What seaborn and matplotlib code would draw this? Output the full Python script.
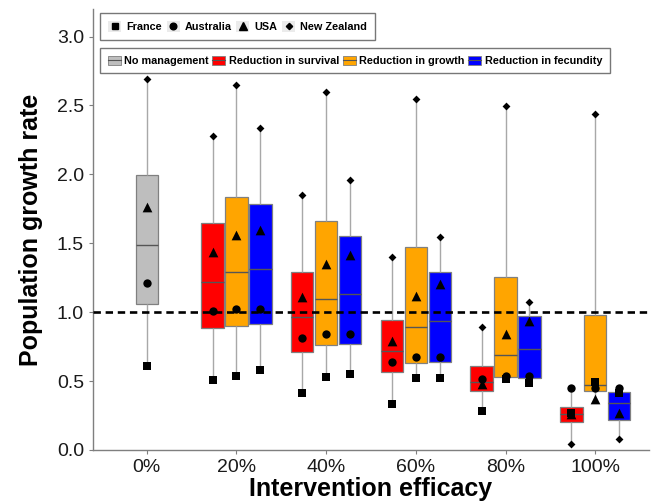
import matplotlib
matplotlib.use("Agg")
import matplotlib.pyplot as plt
import seaborn as sns
import pandas as pd
from matplotlib.lines import Line2D
from matplotlib.patches import Patch
from matplotlib.legend_handler import HandlerTuple

# ---------------- data ----------------
efficacy = ['0%', '20%', '40%', '60%', '80%', '100%']
countries = ['France', 'Australia', 'USA', 'New Zealand']
treatments = ['Reduction in survival', 'Reduction in growth', 'Reduction in fecundity']

# No management (0% only): France, Australia, USA, New Zealand
no_management = [0.61, 1.21, 1.76, 2.69]

# values at 20%, 40%, 60%, 80%, 100%
survival_france = [0.51, 0.415, 0.335, 0.284, 0.265]
survival_australia = [1.007, 0.814, 0.641, 0.515, 0.449]
survival_usa = [1.435, 1.11, 0.789, 0.478, 0.26]
survival_nz = [2.28, 1.85, 1.398, 0.891, 0.041]

growth_france = [0.534, 0.527, 0.519, 0.512, 0.495]
growth_australia = [1.022, 0.843, 0.672, 0.534, 0.449]
growth_usa = [1.563, 1.352, 1.119, 0.843, 0.369]
growth_nz = [2.646, 2.595, 2.547, 2.493, 2.438]

fecundity_france = [0.583, 0.553, 0.524, 0.483, 0.41]
fecundity_australia = [1.022, 0.843, 0.672, 0.534, 0.449]
fecundity_usa = [1.60, 1.418, 1.207, 0.937, 0.267]
fecundity_nz = [2.333, 1.959, 1.546, 1.071, 0.078]

y_ticks = [0.0, 0.5, 1.0, 1.5, 2.0, 2.5, 3.0]

# ---------------- tables ----------------
rows = []
for c, v in zip(countries, no_management):
    rows.append(dict(eff='0%', treat='No management', country=c, val=v))
series = {
    'Reduction in survival': [survival_france, survival_australia, survival_usa, survival_nz],
    'Reduction in growth': [growth_france, growth_australia, growth_usa, growth_nz],
    'Reduction in fecundity': [fecundity_france, fecundity_australia, fecundity_usa, fecundity_nz],
}
for t, lists in series.items():
    for c, vals in zip(countries, lists):
        for e, v in zip(efficacy[1:], vals):
            rows.append(dict(eff=e, treat=t, country=c, val=v))
df = pd.DataFrame(rows)
df0 = df[df.treat == 'No management']
df1 = df[df.treat != 'No management']

palette = {'Reduction in survival': '#FF0000',
           'Reduction in growth': '#FFA500',
           'Reduction in fecundity': '#0000FF'}
grey_fill = '#BEBEBE'

plt.rcParams['font.family'] = ['Liberation Sans', 'DejaVu Sans']
fig = plt.figure(figsize=(6.51, 5.04), dpi=100)
ax = fig.add_axes([93 / 651, 54 / 504, (649 - 93) / 651, (450 - 9) / 504])

box_kw = dict(whis=(0, 100), showfliers=False, linewidth=0.9,
              linecolor='#808080',
              whiskerprops=dict(color='#A8A8A8', linewidth=1.0),
              capprops=dict(linewidth=0),
              medianprops=dict(color='#555555', linewidth=1.0),
              boxprops=dict(edgecolor='#808080'))

sns.boxplot(data=df0, x='eff', y='val', order=efficacy, color=grey_fill,
            width=0.25, ax=ax, **box_kw)
sns.boxplot(data=df1, x='eff', y='val', order=efficacy, hue='treat',
            hue_order=treatments, palette=palette, saturation=1,
            width=0.8, gap=0.06, dodge=True, legend=False, ax=ax, **box_kw)

ax.axhline(1.0, color='black', lw=1.9, dashes=[2.8, 1.8], zorder=5)

markers = {'France': 's', 'Australia': 'o', 'USA': '^', 'New Zealand': 'D'}
sizes = {'France': 5.5, 'Australia': 6.0, 'USA': 7.0, 'New Zealand': 4.0}
draw_order = ['USA', 'Australia', 'France', 'New Zealand']
for c in draw_order:
    sns.stripplot(data=df0[df0.country == c], x='eff', y='val', order=efficacy,
                  color='black', marker=markers[c], size=sizes[c], jitter=False,
                  linewidth=0, ax=ax, zorder=6)
    sns.stripplot(data=df1[df1.country == c], x='eff', y='val', order=efficacy,
                  hue='treat', hue_order=treatments,
                  palette={t: 'black' for t in treatments},
                  marker=markers[c], size=sizes[c], jitter=False, dodge=True,
                  linewidth=0, legend=False, ax=ax, zorder=6)

ax.set_xlim(-0.6, 5.6)
ax.set_ylim(0, 3.2)
ax.set_yticks(y_ticks)
ax.set_yticklabels([f'{v:.1f}' for v in y_ticks])
ax.tick_params(axis='both', labelsize=14, colors='#7f7f7f', labelcolor='#1a1a1a',
               length=3, width=0.8)
for s in ['top', 'right']:
    ax.spines[s].set_visible(False)
for s in ['left', 'bottom']:
    ax.spines[s].set_color('#7f7f7f')
    ax.spines[s].set_linewidth(1.0)
ax.set_xlabel('Intervention efficacy', fontsize=18, fontweight='bold', labelpad=1)
ax.set_ylabel('Population growth rate', fontsize=18, fontweight='bold', labelpad=10)

# legends
key_bg = '#EBEBEB'
overlay = {tuple: HandlerTuple(ndivide=1, pad=0)}
h1 = [(Patch(facecolor=key_bg, edgecolor='none'),
       Line2D([], [], ls='none', marker=markers[c], color='black',
              markersize=sizes[c] * 0.8)) for c in countries]
leg1 = fig.legend(h1, countries, loc='upper left',
                  bbox_to_anchor=(100 / 651, 1 - 13 / 504), borderaxespad=0,
                  ncol=4, prop=dict(size=7.8, weight='bold'), frameon=True,
                  fancybox=False, edgecolor='#555555', handlelength=1.2,
                  handleheight=1.2, handler_map=overlay,
                  handletextpad=0.45, columnspacing=0.45, borderpad=0.75)
leg1.get_frame().set_linewidth(1.0)

fills = [grey_fill] + [palette[t] for t in treatments]
h2 = [(Patch(facecolor=key_bg, edgecolor='none'),
       Patch(facecolor=f, edgecolor='#808080', linewidth=0.6),
       Line2D([], [], color='#555555', lw=0.8)) for f in fills]
lab2 = ['No management'] + treatments
leg2 = fig.legend(h2, lab2, loc='upper left',
                  bbox_to_anchor=(100 / 651, 1 - 48 / 504), borderaxespad=0,
                  ncol=4, prop=dict(size=7.8, weight='bold'), frameon=True,
                  fancybox=False, edgecolor='#555555', handlelength=1.2,
                  handleheight=0.9, handler_map=overlay,
                  handletextpad=0.35, columnspacing=0.3, borderpad=0.7)
leg2.get_frame().set_linewidth(1.0)

fig.savefig('out.png', dpi=100)
